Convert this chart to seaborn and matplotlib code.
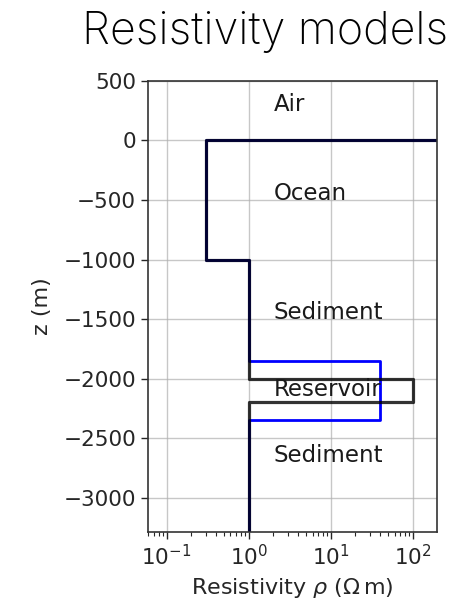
import numpy as np
import pandas as pd
import matplotlib
matplotlib.use("Agg")
import matplotlib.pyplot as plt
import seaborn as sns

# Layered 1-D resistivity models (interfaces in m, resistivities in Ohm m)
air_rho = 1e8
true_interfaces = [0, -1000, -2000, -2200]
true_rho = [air_rho, 0.3, 1.0, 100.0, 1.0]

start_interfaces = [0, -1000, -1850, -2350]
start_rho = [air_rho, 0.3, 1.0, 40.0, 1.0]

layer_names = ["Air", "Ocean", "Sediment", "Reservoir", "Sediment"]
label_z = [250, -500, -1500, -2150, -2700]
label_rho = 2.0

z_top, z_bottom = 500, -3290
model_top, model_bottom = 2000, -6000


def step_profile(interfaces, rho):
    """Turn layer interfaces + resistivities into a staircase path."""
    bounds = [model_top] + list(interfaces) + [model_bottom]
    xs, zs = [], []
    for i, r in enumerate(rho):
        xs += [r, r]
        zs += [bounds[i], bounds[i + 1]]
    return pd.DataFrame({"rho": xs, "z": zs})


sns.set_style("ticks")
plt.rcParams["font.family"] = ["DejaVu Sans"]

fig = plt.figure(figsize=(4.6, 6.09), dpi=100)
ax = fig.add_axes([0.3217, 0.1264, 0.6283, 0.7406])

sns.lineplot(data=step_profile(start_interfaces, start_rho), x="rho", y="z",
             sort=False, estimator=None, color="#0000ff", lw=2.0, ax=ax)
sns.lineplot(data=step_profile(true_interfaces, true_rho), x="rho", y="z",
             sort=False, estimator=None, color="black", alpha=0.8, lw=2.3, ax=ax)

ax.set_xscale("log")
ax.set_xlim(0.0594, 197)
ax.set_ylim(z_bottom, z_top)
ax.set_yticks(np.arange(-3000, 501, 500))
ax.grid(True, which="major", color="#b0b0b0", lw=1.0, alpha=0.7)

for name, zt in zip(layer_names, label_z):
    ax.text(label_rho, zt, name, fontsize=16.5, color="#1a1a1a")

ax.set_xlabel(r"Resistivity $\rho$ ($\Omega\,$m)", fontsize=16,
              color="#262626", labelpad=5)
ax.set_ylabel("z (m)", fontsize=16, color="#262626", labelpad=8)
ax.tick_params(axis="both", which="major", labelsize=15.5, length=5, width=1.0,
               colors="#262626")
ax.tick_params(axis="x", which="minor", length=3, width=0.8, colors="#262626")
for s in ax.spines.values():
    s.set_visible(True)
    s.set_color("#333333")
    s.set_linewidth(1.2)

fig.text(0.576, 0.928, "Resistivity models", ha="center", va="baseline",
         fontsize=32.3, family=["Inter", "DejaVu Sans"], fontweight="light",
         color="black")

fig.savefig("out.png", dpi=100)
